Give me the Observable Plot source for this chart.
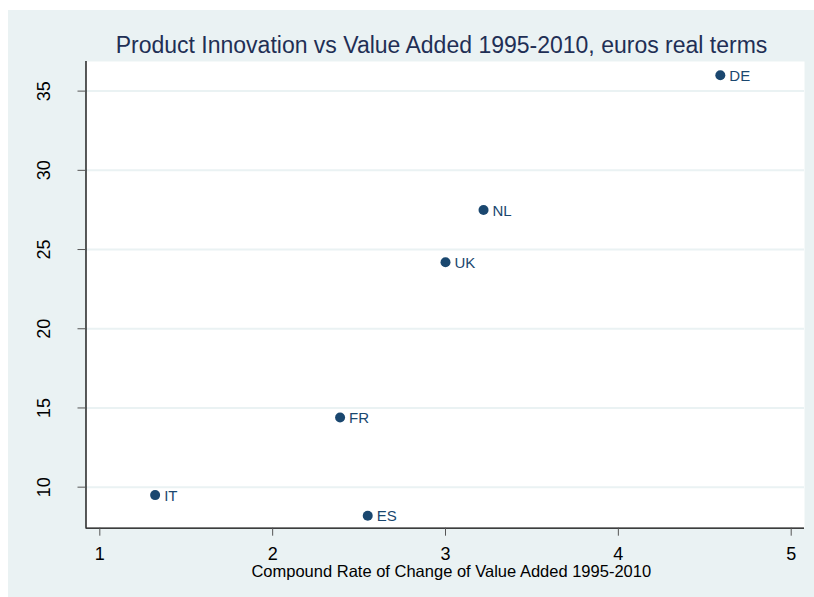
<!DOCTYPE html>
<html>
<head>
<meta charset="utf-8">
<script src="https://cdn.jsdelivr.net/npm/d3@7"></script>
<script src="https://cdn.jsdelivr.net/npm/@observablehq/plot@0.6"></script>
<style>
  html, body { margin: 0; padding: 0; background: #ffffff; }
  #wrap { position: absolute; left: 8px; top: 10px; width: 806px; height: 587px; background: #eaf2f3; font-family: "Liberation Sans", Arial, sans-serif; }
  #title { position: absolute; left: 74px; width: 719px; top: 21px; text-align: center; font-size: 23px; color: #1f2f55; line-height: 28px; white-space: nowrap; }
  #chart { position: absolute; left: 0; top: 51px; }
</style>
</head>
<body>
<div id="wrap">
  <div id="title">Product Innovation vs Value Added 1995-2010, euros real terms</div>
  <div id="chart"></div>
</div>
<script>
const countries = ["DE", "NL", "UK", "FR", "IT", "ES"];
const valueAddedGrowth = [4.59, 3.22, 3.0, 2.39, 1.32, 2.55];
const productInnovation = [36.0, 27.5, 24.2, 14.4, 9.5, 8.2];
const xTicks = [1, 2, 3, 4, 5];
const yTicks = [10, 15, 20, 25, 30, 35];
const xTitle = "Compound Rate of Change of Value Added 1995-2010";

const data = countries.map((c, i) => ({country: c, x: valueAddedGrowth[i], y: productInnovation[i]}));
const navy = "#1a476f";
const xDomain = [0.92, 5.077];
const yDomain = [7.41, 36.87];

const plot = Plot.plot({
  width: 806,
  height: 536,
  marginLeft: 77.5,
  marginRight: 10,
  marginTop: 0,
  marginBottom: 69.3,
  style: {background: "transparent", fontFamily: "'Liberation Sans', Arial, sans-serif", overflow: "visible"},
  x: {domain: xDomain},
  y: {domain: yDomain},
  marks: [
    Plot.frame({fill: "#ffffff", stroke: "none"}),
    Plot.gridY(yTicks, {stroke: "#eaf2f3", strokeOpacity: 1, strokeWidth: 2}),
    Plot.ruleX([xDomain[0]], {stroke: "#000000", strokeWidth: 1.3}),
    Plot.ruleY([yDomain[0]], {stroke: "#000000", strokeWidth: 1.3}),
    Plot.axisY({ticks: yTicks, tickSize: 8, tickFormat: () => "", stroke: "#555555", label: null}),
    Plot.text(yTicks, {y: d => d, frameAnchor: "left", text: d => String(d), rotate: -90, dx: -42, textAnchor: "middle", lineAnchor: "middle", fontSize: 18, fill: "#000000"}),
    Plot.axisX({ticks: xTicks, tickSize: 8, tickPadding: 11, fontSize: 18, tickFormat: d => String(d), stroke: "#555555", fill: "#000000", label: null}),
    Plot.text([xTitle], {frameAnchor: "bottom", text: d => d, dy: 44, dx: 6, lineAnchor: "middle", fontSize: 16.5, fill: "#000000"}),
    Plot.dot(data, {x: "x", y: "y", r: 5, fill: navy, stroke: "none"}),
    Plot.text(data, {x: "x", y: "y", text: "country", dx: 9, dy: 1, textAnchor: "start", lineAnchor: "middle", fontSize: 15, fill: navy})
  ]
});
document.getElementById("chart").appendChild(plot);
</script>
</body>
</html>
